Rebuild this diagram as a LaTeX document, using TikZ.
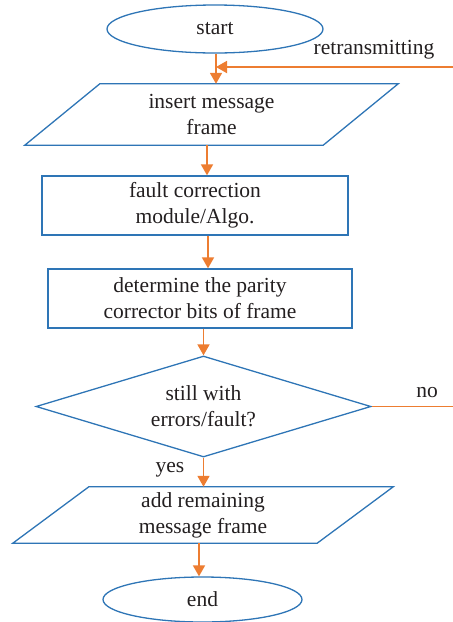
\documentclass[tikz,border=0pt]{standalone}
\usepackage{fontspec}
\setmainfont{Liberation Serif}
\usetikzlibrary{shapes.geometric,arrows.meta,calc}

\definecolor{flowblue}{RGB}{46,117,182}
\definecolor{floworange}{RGB}{237,125,49}
\definecolor{ink}{RGB}{35,31,32}

\tikzset{
  every node/.style={text=ink, font=\fontsize{21.5}{26}\selectfont, align=center, inner sep=0pt},
  terminal/.style={ellipse, draw=flowblue, line width=1.3pt},
  procbox/.style={rectangle, draw=flowblue, line width=1.3pt},
  iobox/.style={rectangle, draw=none},
  decision/.style={diamond, draw=flowblue, line width=1.3pt, shape aspect=3.3},
  slantedge/.style={draw=flowblue, line width=1.3pt, line join=miter},
  flow/.style={draw=floworange, line width=1.8pt},
  arr/.style={flow, -{Triangle[width=12pt,length=11pt]}},
}

\begin{document}
\begin{tikzpicture}[x=1pt, y=-1pt]
  \useasboundingbox (0,0) rectangle (453,622);

  % terminals, process boxes and decision
  \node[terminal, minimum width=216pt, minimum height=48pt] (start) at (215,29) {start};
  \node[iobox, minimum width=298pt, minimum height=61pt] (p1) at (211.5,114.5) {insert message\\frame};
  \node[procbox, minimum width=306pt, minimum height=59pt] (r1) at (195,205.5) {fault correction\\module/Algo.};
  \node[procbox, minimum width=304pt, minimum height=59pt] (r2) at (200,298.5) {determine the parity\\corrector bits of frame};
  \node[decision, minimum width=335pt, minimum height=101pt] (dia) at (203.5,406.5) {still with\\errors/fault?};
  \node[iobox, minimum width=304pt, minimum height=56pt] (p2) at (203,515) {add remaining\\message frame};
  \node[terminal, minimum width=199pt, minimum height=45pt] (end) at (202.5,599.5) {end};

  % input/output parallelograms drawn around their text nodes
  \draw[slantedge] ($(p1.north west)+(37.5,0)$) -- ($(p1.north east)+(37.5,0)$)
    -- ($(p1.south east)-(37.5,0)$) -- ($(p1.south west)-(37.5,0)$) -- cycle;
  \draw[slantedge] ($(p2.north west)+(38,0)$) -- ($(p2.north east)+(38,0)$)
    -- ($(p2.south east)-(38,0)$) -- ($(p2.south west)-(38,0)$) -- cycle;

  % free ends of the side lines
  \coordinate (rt) at (453,67);
  \coordinate (noend) at (453,406.5);
  \coordinate (join) at ([xshift=1pt]start.south);

  % connectors
  \draw[arr] (join) -- (join |- p1.north);
  \draw[arr] (rt) -- (rt -| join);
  \draw[arr] ([xshift=-4.5pt]p1.south) -- ([xshift=-4.5pt]p1.south |- r1.north);
  \draw[arr] ([xshift=13pt]r1.south) -- ([xshift=13pt]r1.south |- r2.north);
  \draw[arr] (r2.south -| dia.north) -- (dia.north);
  \draw[arr] (dia.south) -- (dia.south |- p2.north);
  \draw[flow] (dia.east) -- (noend);
  \draw[arr] ([xshift=-4pt]p2.south) -- ([xshift=-4pt]p2.south |- end.north);

  % branch labels
  \node (lretx) at (374,50) {retransmitting};
  \node (lno) at (427,393) {no};
  \node (lyes) at (170,470) {yes};
\end{tikzpicture}
\end{document}
